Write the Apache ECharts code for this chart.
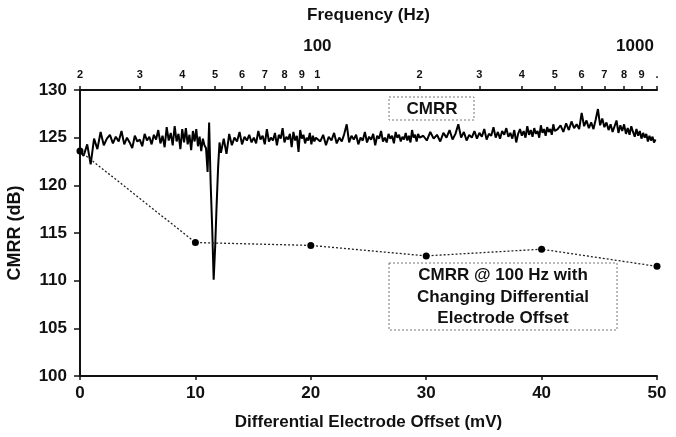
<!DOCTYPE html>
<html>
<head>
<meta charset="utf-8">
<script src="https://cdn.jsdelivr.net/npm/echarts@6/dist/echarts.min.js"></script>
<style>
html,body{margin:0;padding:0;background:#fff;}
#chart{width:676px;height:437px;}
</style>
</head>
<body>
<div id="chart"></div>
<script>
// Dotted series: CMRR @ 100 Hz vs differential electrode offset
const offsetMv = [0, 10, 20, 30, 40, 50];
const cmrrAt100Hz = [123.6, 114.0, 113.7, 112.6, 113.3, 111.5];

// Noisy series: CMRR vs frequency (Hz)
const freqHz = [
  20,20.5,21,21.5,22,22.5,23,23.5,24,24.5,25,25.5,26,26.5,27,27.5,28,28.5,29,29.5,
  30,30.5,31,31.5,32,32.5,33,33.5,34,34.5,35,35.5,36,36.5,37,37.5,38,38.5,39,39.5,
  40,40.5,41,41.5,42,42.5,43,43.5,44,44.5,45,45.5,46,46.5,47,47.5,48,48.5,49,49.5,
  50,50.5,51,51.5,52,
  53,54,55,56,57,58,59,60,61,62,63,64,65,66,67,68,69,70,71,72,73,74,75,76,77,78,79,80,
  81,82,83,84,85,86,87,88,89,90,91,92,93,94,95,96,97,98,99,100,
  102,104,106,108,110,112,114,116,118,120,122,124,126,128,130,132,134,136,138,140,
  142,144,146,148,150,152,154,156,158,160,162,164,166,168,170,172,174,176,178,180,
  182,184,186,188,190,192,194,196,198,200,
  205,210,215,220,225,230,235,240,245,250,255,260,265,270,275,280,285,290,295,300,
  305,310,315,320,325,330,335,340,345,350,355,360,365,370,375,380,385,390,395,400,
  405,410,415,420,425,430,435,440,445,450,455,460,465,470,475,480,485,490,495,500,
  510,520,530,540,550,560,570,580,590,600,610,620,630,640,650,660,670,680,690,700,
  710,720,730,740,750,760,770,780,790,800,810,820,830,840,850,860,870,880,890,900,
  910,920,930,940,950,960,970,980,990
];
const cmrrDb = [
  123.6,123.1,124.3,122.2,124.9,123.8,125.6,124.2,124.9,125.3,124.4,125.1,124.6,125.7,124.3,125.0,124.5,123.9,125.2,124.6,
  124.8,124.1,125.4,124.7,125.1,124.3,125.3,124.8,125.8,124.4,125.2,124.0,126.1,124.7,125.5,124.2,126.2,124.6,125.4,123.8,
  125.9,124.5,126.0,124.3,125.3,123.7,125.7,124.6,125.9,124.1,125.1,123.6,124.9,124.2,123.9,121.4,126.6,120.2,115.6,110.1,
  113.5,117.9,121.8,124.5,123.4,
  124.9,123.3,125.4,124.2,125.0,124.6,125.6,124.3,125.1,124.7,125.3,124.5,125.0,124.4,125.7,124.8,125.2,124.3,125.9,124.6,125.0,124.7,125.5,124.2,125.3,124.9,126.0,124.5,
  125.1,124.8,125.4,124.0,125.6,124.7,125.2,123.5,125.8,124.9,125.3,124.4,125.0,124.7,125.5,124.3,125.2,124.6,125.0,124.8,
  124.6,125.3,124.2,125.1,124.7,125.5,124.4,125.0,124.6,125.4,126.4,124.5,125.2,124.8,125.3,124.3,125.0,124.7,125.6,124.5,
  125.1,124.8,125.4,124.2,125.2,124.9,125.7,124.6,125.0,124.5,125.4,124.9,125.2,124.4,125.6,125.0,125.3,124.6,125.1,124.8,
  125.5,124.7,125.2,124.5,125.8,125.0,125.3,124.6,125.4,125.0,
  125.2,124.7,125.6,124.9,125.3,124.6,125.5,125.0,125.8,124.8,125.4,126.4,125.0,125.6,124.7,125.3,125.0,125.7,124.9,125.5,
  125.1,125.9,124.8,125.4,125.2,126.1,125.0,125.6,124.9,125.7,125.3,126.0,125.1,125.5,124.9,125.8,124.5,125.4,125.9,125.2,
  125.7,125.0,126.2,125.3,125.8,125.1,126.0,125.4,125.7,125.0,126.3,125.5,125.9,125.2,126.1,125.6,125.9,125.3,126.4,125.7,
  125.9,126.3,125.6,126.5,125.8,126.7,126.0,126.4,125.9,127.6,126.2,126.8,126.0,126.6,125.9,126.9,128.0,126.3,127.0,126.1,
  126.6,125.8,126.4,125.6,126.2,126.8,125.5,126.3,125.7,126.4,125.4,126.0,125.3,126.2,125.6,125.1,125.9,125.2,125.7,124.9,
  125.5,125.0,125.4,124.6,125.2,124.7,125.1,124.5,124.8
];

// Axis ticks
const yTickMin = 100, yTickMax = 130, yTickStep = 5;
const offsetTickMin = 0, offsetTickMax = 50, offsetTickStep = 10;
const freqTickValues = [20,30,40,50,60,70,80,90,100,200,300,400,500,600,700,800,900,1000];
const freqTickLabels = ['2','3','4','5','6','7','8','9','1','2','3','4','5','6','7','8','9','.'];
const freqDecadeValues = [100, 1000];
const freqDecadeLabels = ['100', '1000'];

const FONT = '"Liberation Sans", Arial, sans-serif';
const chart = echarts.init(document.getElementById('chart'), null, {renderer: 'canvas'});

function findIdx(arr, v) {
  return arr.findIndex(t => Math.abs(t - v) < 1e-6 * t);
}
function freqLabel(v) {
  const i = findIdx(freqTickValues, v);
  return i < 0 ? '' : '{sm|' + freqTickLabels[i] + '}';
}
function decadeLabel(v) {
  const d = findIdx(freqDecadeValues, v);
  if (d < 0) return '';
  return d === freqDecadeValues.length - 1 ? '{bigR|' + freqDecadeLabels[d] + '}' : '{big|' + freqDecadeLabels[d] + '}';
}

const boldText = {fontFamily: FONT, fontWeight: 'bold', fontSize: 17, color: '#111'};

const option = {
  animation: false,
  backgroundColor: '#fff',
  grid: {left: 80, right: 19, top: 90, bottom: 61, containLabel: false, outerBoundsMode: 'none'},
  xAxis: [
    {
      type: 'value', position: 'bottom',
      min: offsetTickMin, max: offsetTickMax, interval: offsetTickStep,
      name: 'Differential Electrode Offset (mV)', nameLocation: 'middle', nameGap: 38,
      nameTextStyle: boldText,
      axisLine: {show: true, onZero: false, lineStyle: {color: '#111', width: 2}},
      axisTick: {show: true, length: 4, lineStyle: {color: '#111', width: 1.5}},
      axisLabel: Object.assign({margin: 9}, boldText),
      splitLine: {show: false}
    },
    {
      type: 'log', position: 'top', logBase: 10,
      min: 20, max: 1000,
      name: 'Frequency (Hz)', nameLocation: 'middle', nameGap: 66,
      nameTextStyle: boldText,
      axisLine: {show: true, onZero: false, lineStyle: {color: '#111', width: 2}},
      axisTick: {show: true, length: 4, customValues: freqTickValues, lineStyle: {color: '#111', width: 1.5}},
      minorTick: {show: false},
      axisLabel: {
        customValues: freqTickValues, showMinLabel: true, showMaxLabel: true, hideOverlap: false,
        margin: 9, formatter: freqLabel,
        rich: {
          sm: {fontFamily: FONT, fontWeight: 'bold', fontSize: 11, lineHeight: 12, color: '#111'}
        }
      },
      splitLine: {show: false}
    },
    {
      type: 'log', position: 'top', logBase: 10,
      min: 20, max: 1000,
      axisLine: {show: false},
      axisTick: {show: false},
      minorTick: {show: false},
      axisLabel: {
        customValues: freqDecadeValues, showMinLabel: true, showMaxLabel: true, hideOverlap: false,
        margin: 34, formatter: decadeLabel,
        rich: {
          big: {fontFamily: FONT, fontWeight: 'bold', fontSize: 17, lineHeight: 20, color: '#111'},
          bigR: {fontFamily: FONT, fontWeight: 'bold', fontSize: 17, lineHeight: 20, color: '#111', padding: [0, 44, 0, 0]}
        }
      },
      splitLine: {show: false}
    }
  ],
  yAxis: {
    type: 'value', min: yTickMin, max: yTickMax, interval: yTickStep,
    name: 'CMRR (dB)', nameLocation: 'middle', nameGap: 56, nameRotate: 90,
    nameTextStyle: {fontFamily: FONT, fontWeight: 'bold', fontSize: 18, color: '#111'},
    axisLine: {show: true, onZero: false, lineStyle: {color: '#111', width: 2}},
    axisTick: {show: true, length: 6, lineStyle: {color: '#111', width: 1.5}},
    axisLabel: Object.assign({margin: 13}, boldText),
    splitLine: {show: false}
  },
  series: [
    {
      type: 'line', xAxisIndex: 1, yAxisIndex: 0,
      data: freqHz.map((f, i) => [f, cmrrDb[i]]),
      showSymbol: false, symbol: 'none',
      lineStyle: {color: '#000', width: 2},
      z: 2
    },
    {
      type: 'line', xAxisIndex: 0, yAxisIndex: 0,
      data: offsetMv.map((x, i) => [x, cmrrAt100Hz[i]]),
      symbol: 'circle', symbolSize: 7,
      itemStyle: {color: '#000'},
      lineStyle: {color: '#222', width: 1.3, type: [2, 2]},
      z: 3
    }
  ],
  graphic: [
    {type: 'rect', x: 389, y: 97, shape: {x: 0, y: 0, width: 85, height: 23},
     style: {fill: '#fff', stroke: '#777', lineWidth: 1, lineDash: [2, 2]}, z: 1},
    {type: 'text', x: 432, y: 109, z: 5,
     style: {text: 'CMRR', fontFamily: FONT, fontWeight: 'bold', fontSize: 17, fill: '#111', align: 'center', verticalAlign: 'middle'}},
    {type: 'rect', x: 389, y: 263, shape: {x: 0, y: 0, width: 228, height: 67},
     style: {fill: '#fff', stroke: '#777', lineWidth: 1, lineDash: [2, 2]}, z: 1},
    {type: 'text', x: 503, y: 297, z: 5,
     style: {text: 'CMRR @ 100 Hz with\nChanging Differential\nElectrode Offset', fontFamily: FONT, fontWeight: 'bold', fontSize: 17, lineHeight: 21.5, fill: '#111', align: 'center', verticalAlign: 'middle'}}
  ]
};
chart.setOption(option);
</script>
</body>
</html>
